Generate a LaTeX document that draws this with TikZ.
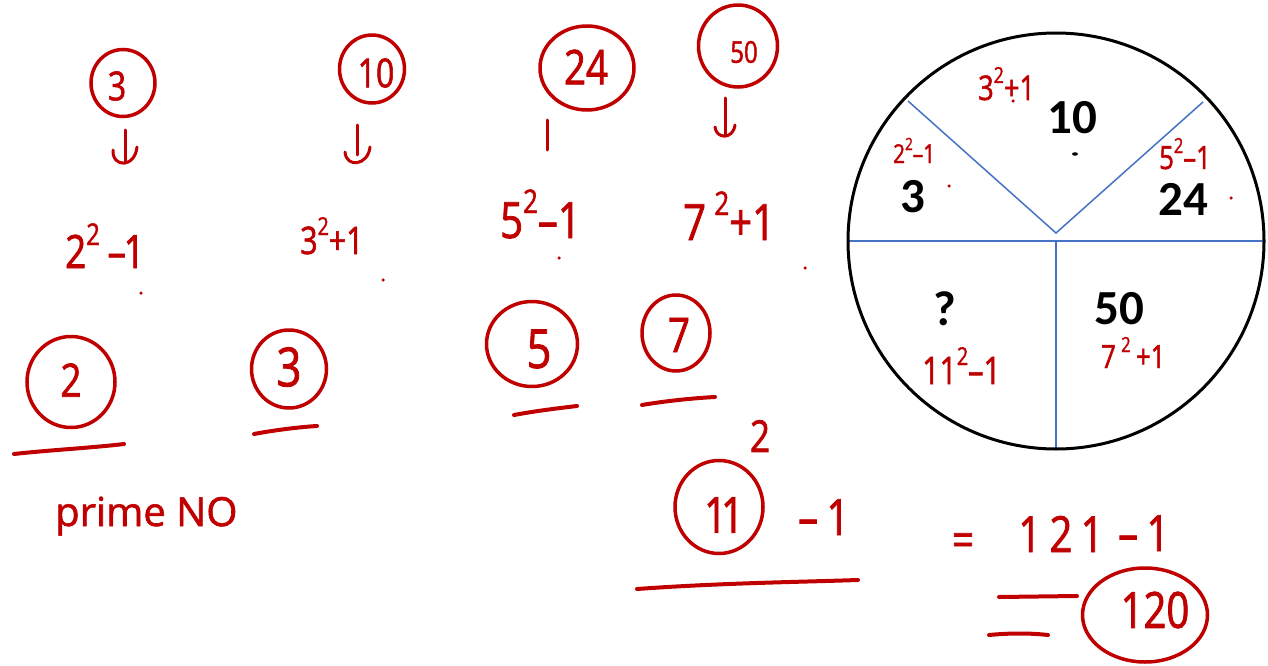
\documentclass[tikz,border=0pt]{standalone}
\usepackage{fontspec}
\setmainfont{Carlito}
\newfontfamily\hand[FakeStretch=0.8,FakeBold=1.5]{Open Sans}
\newfontfamily\handw[FakeBold=1.5]{Open Sans}
\usetikzlibrary{shapes.geometric}
\definecolor{hred}{RGB}{192,0,0}
\definecolor{pblue}{RGB}{68,114,196}
\newcommand\hsz[1]{\fontsize{#1}{#1}\selectfont}
\newcommand\sqr[1]{\raisebox{0.5em}{\scalebox{0.65}{#1}}}
\tikzset{
  ring/.style={draw=hred, line width=3.5pt, ellipse, inner sep=0pt},
  rt/.style={text=hred, inner sep=0pt, font={\hand\hsz{#1}}},
  rtb/.style={text=hred, inner sep=0pt, anchor=base west, font={\hand\hsz{#1}}},
  pen/.style={draw=hred, line width=4pt, line cap=round},
  thinpen/.style={draw=hred, line width=3pt, line cap=round},
  bk/.style={inner sep=0pt, font={\bfseries\hsz{49}}},
  rdot/.style={fill=hred, circle, inner sep=0pt, minimum size=3.5pt},
  kdot/.style={fill=black, ellipse, inner sep=0pt, minimum width=6pt, minimum height=3.5pt},
  wheel/.style={draw=black, line width=3pt},
  spoke/.style={draw=pblue, line width=1.5pt}
}
\begin{document}
\begin{tikzpicture}[x=1pt,y=-1pt]
\useasboundingbox[fill=white] (0,0) rectangle (1268,666);

% ---------- top row: circled numbers ----------
\node[ring, minimum width=64pt, minimum height=67pt] (r3) at (123,83) {};
\node[rt=40] (t3) at (117,86) {3};
\node[ring, minimum width=65pt, minimum height=68pt] (r10) at (372,69) {};
\node[rt=40] (t10) at (376,73) {10};
\node[ring, minimum width=94pt, minimum height=84pt] (r24) at (587,68) {};
\node[rt=48] (t24) at (586,67) {24};
\node[ring, minimum width=79pt, minimum height=82pt] (r50) at (738,46) {};
\node[rt=30] (t50) at (744,52) {50};

% ---------- arrows ----------
\draw[thinpen] (125,130) -- (125,163);
\draw[thinpen] (113,150) .. controls (112,168) and (135,168) .. (137,147);
\draw[thinpen] (357,125) -- (357,155);
\draw[thinpen] (345,152) .. controls (346,168) and (368,166) .. (370,147);
\draw[thinpen] (547,120) -- (547,150);
\draw[thinpen] (725,98) -- (725,136);
\draw[thinpen] (715,127) .. controls (716,139) and (733,140) .. (735,125);

% ---------- expressions ----------
\node[rtb=46] (e1) at (65,268) {2\sqr{2}\,–\kern-0.05em1};
\node[rtb=38] (e2) at (300,254) {3\sqr{2}+1};
\node[rtb=50] (e3) at (500,238) {5\sqr{2}–1};
\node[rtb=50] (e4) at (683,240) {7\,\sqr{2}+1};
\node[rdot] (d1) at (141,293) {};
\node[rdot] (d2) at (383,280) {};
\node[rdot] (d3) at (559,258) {};
\node[rdot] (d4) at (805,268) {};

% ---------- second row: circled primes ----------
\node[ring, minimum width=88pt, minimum height=91pt] (r2b) at (71,382) {};
\node[rt=46] (t2b) at (71,380) {2};
\node[ring, minimum width=75pt, minimum height=78pt] (r3b) at (289,369) {};
\node[rt=54] (t3b) at (289,367) {3};
\node[ring, minimum width=91pt, minimum height=85pt] (r5b) at (532,344) {};
\node[rt=54] (t5b) at (539,349) {5};
\node[ring, minimum width=68pt, minimum height=76pt] (r7b) at (676,333) {};
\node[rt=48] (t7b) at (679,335) {7};

\draw[pen] (14,454) .. controls (50,450) and (90,448) .. (124,444);
\draw[pen] (254,434) .. controls (275,430) and (300,427) .. (317,426);
\draw[pen] (514,415) .. controls (535,411) and (560,408) .. (577,406);
\draw[pen] (642,405) .. controls (665,401) and (695,398) .. (715,397);

\node[text=hred, inner sep=0pt, anchor=base west, font={\handw\hsz{40}}] (prime) at (55,526) {prime NO};

% ---------- 11^2 - 1 ----------
\node[rt=44] (sq) at (760,436) {2};
\node[ring, minimum width=88pt, minimum height=93pt] (r11) at (719,507) {};
\node[rt=50] (t11) at (724,515) {1\kern-0.12em1};
\node[rtb=50] (m11) at (798,535) {–\,1};
\draw[pen] (637,589) .. controls (720,583) and (800,582) .. (858,580);

\node[rt=48] (eqa) at (963,545) {=};
\node[rt=50] (n121) at (1061,534) {1\,2\,1};
\node[rtb=50] (m121) at (1118,551) {–\,1};
\draw[pen] (999,597) -- (1077,596);
\draw[pen] (989,635) .. controls (1010,633) and (1030,633) .. (1048,635);
\node[ring, minimum width=125pt, minimum height=94pt] (r120) at (1145,615) {};
\node[rt=50] (t120) at (1155,610) {120};

% ---------- wheel ----------
\coordinate (c) at (1056,241);
\coordinate (apex) at (1056,233);
\coordinate (ul) at (908,101);
\coordinate (ur) at (1203,102);
\coordinate (wl) at (848,241);
\coordinate (wr) at (1264,241);
\coordinate (wb) at (1056,449);
\draw[spoke] (ul) -- (apex) -- (ur);
\draw[spoke] (wl) -- (wr);
\draw[spoke] (c) -- (wb);
\draw[wheel] (c) circle[radius=208];

\node[bk] (w10) at (1072,118) {10};
\node[bk] (w3) at (913,197) {3};
\node[bk] (w24) at (1183,199) {24};
\node[bk] (wq) at (945,309) {?};
\node[bk] (w50) at (1119,309) {50};

\node[rtb=34] (a10) at (978,100) {3\sqr{2}+1};
\node[rtb=26] (a3) at (893,163) {2\sqr{2}–1};
\node[rtb=32] (a24) at (1159,169) {5\sqr{2}–1};
\node[rtb=38] (aq) at (922,384) {11\sqr{2}–1};
\node[rtb=32] (a50) at (1101,368) {7\,\sqr{2}\,+1};

\node[kdot] (k1) at (1075,154) {};
\node[rdot] (d5) at (1013,101) {};
\node[rdot] (d6) at (949,186) {};
\node[rdot] (d7) at (1231,198) {};
\end{tikzpicture}
\end{document}
